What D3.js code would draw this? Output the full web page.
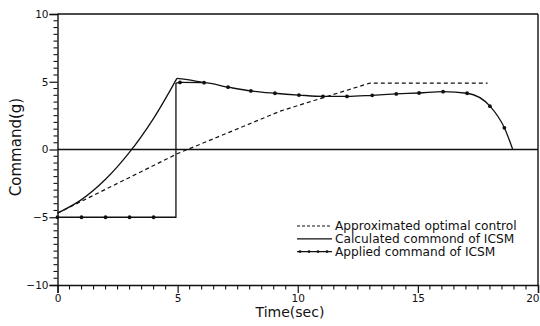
<!DOCTYPE html>
<html>
<head>
<meta charset="utf-8">
<script src="https://cdn.jsdelivr.net/npm/d3@7"></script>
<style>
  body { margin: 0; background: #fff; }
  svg { display: block; }
  text { font-family: "DejaVu Sans", sans-serif; fill: #111; }
</style>
</head>
<body>
<div id="chart"></div>
<script>
// values
const timeTicks = [0, 5, 10, 15, 20];
const commandTicks = [-10, -5, 0, 5, 10];

// approximated optimal control (dashed)
const optimalT = [0, 5, 9.3, 13, 17.9];
const optimalV = [-4.7, -0.3, 2.85, 4.9, 4.9];

// applied command of ICSM (solid with dots)
const stepT = [0, 1, 2, 3, 4, 4.93, 4.93];
const stepV = [-5, -5, -5, -5, -5, -5, 4.9];
const appliedT = [4.93, 5.1, 6.1, 7.1, 8.05, 9.05, 10.05, 11.05, 12.05, 13.1, 14.1, 15.05, 16.05, 17.05, 18.0, 18.6, 18.95];
const appliedV = [4.9, 4.95, 4.93, 4.6, 4.32, 4.15, 4.02, 3.92, 3.92, 4.0, 4.1, 4.17, 4.27, 4.15, 3.2, 1.6, 0];

// calculated command of ICSM (solid), joins the applied one after ~6 s
const riseT = [0, 1, 2, 3, 4, 4.97];
const riseV = [-4.7, -3.7, -2.2, -0.2, 2.3, 5.25];
const fallT = [4.97, 5.6, 6.1];
const fallV = [5.25, 5.1, 4.93];

const legendLabels = ['Approximated optimal control', 'Calculated commond of ICSM', 'Applied command of ICSM'];

const width = 540, height = 326;
const x = d3.scaleLinear().domain([0, 20]).range([57.5, 538]);
const y = d3.scaleLinear().domain([-10, 10]).range([285, 14]);
const ink = '#111';

const svg = d3.select('#chart').append('svg')
  .attr('width', width)
  .attr('height', height);

const pts = (ts, vs) => ts.map((t, i) => [t, vs[i]]);
const line = d3.line().x(d => x(d[0])).y(d => y(d[1]));
const smooth = d3.line().x(d => x(d[0])).y(d => y(d[1])).curve(d3.curveMonotoneX);
const rounded = d3.line().x(d => x(d[0])).y(d => y(d[1])).curve(d3.curveCatmullRom.alpha(0.5));

// frame: top and right edges
svg.append('line')
  .attr('x1', x(0)).attr('x2', x(20)).attr('y1', y(10)).attr('y2', y(10))
  .attr('stroke', ink).attr('stroke-width', 1.4);
svg.append('line')
  .attr('x1', x(20)).attr('x2', x(20)).attr('y1', y(10)).attr('y2', y(-10))
  .attr('stroke', ink).attr('stroke-width', 1.4);

// axes
const xAxis = d3.axisBottom(x).tickValues(timeTicks).tickSize(8).tickPadding(2).tickFormat(d3.format('d'));
const yAxis = d3.axisLeft(y).tickValues(commandTicks).tickSize(8).tickPadding(1)
  .tickFormat(d => d < 0 ? '\u2212' + Math.abs(d) : d);

const gx = svg.append('g').attr('transform', `translate(0,${y(-10)})`).call(xAxis);
const gy = svg.append('g').attr('transform', `translate(${x(0)},0)`).call(yAxis);
[gx, gy].forEach(g => {
  g.select('.domain').attr('stroke', ink).attr('stroke-width', 1.4);
  g.selectAll('.tick line').attr('stroke', ink).attr('stroke-width', 1.2);
  g.selectAll('.tick text').attr('font-size', 10.5).attr('fill', ink)
    .style('font-family', '"DejaVu Sans", sans-serif');
});
// keep the last time label inside the page
gx.selectAll('.tick text').filter(d => d === 20).attr('text-anchor', 'end').attr('dx', 1);

// minor ticks every 0.5
svg.append('g').selectAll('line')
  .data(d3.range(0.5, 20, 0.5).filter(v => v % 5 !== 0))
  .join('line')
  .attr('x1', d => x(d)).attr('x2', d => x(d))
  .attr('y1', y(-10)).attr('y2', y(-10) + 4.5)
  .attr('stroke', ink).attr('stroke-width', 1.1);
svg.append('g').selectAll('line')
  .data(d3.range(-9.5, 10, 0.5).filter(v => v % 5 !== 0))
  .join('line')
  .attr('x1', x(0) - 4).attr('x2', x(0))
  .attr('y1', d => y(d)).attr('y2', d => y(d))
  .attr('stroke', ink).attr('stroke-width', 1.1);

// zero line
svg.append('line')
  .attr('x1', x(0)).attr('x2', x(20)).attr('y1', y(0)).attr('y2', y(0))
  .attr('stroke', ink).attr('stroke-width', 1.3);

// series
svg.append('path')
  .attr('d', line(pts(optimalT, optimalV)))
  .attr('fill', 'none').attr('stroke', ink).attr('stroke-width', 1.2)
  .attr('stroke-dasharray', '4,3');

svg.append('path')
  .attr('d', rounded(pts(riseT, riseV)))
  .attr('fill', 'none').attr('stroke', ink).attr('stroke-width', 1.3);
svg.append('path')
  .attr('d', smooth(pts(fallT, fallV)))
  .attr('fill', 'none').attr('stroke', ink).attr('stroke-width', 1.3);

svg.append('path')
  .attr('d', line(pts(stepT, stepV)))
  .attr('fill', 'none').attr('stroke', ink).attr('stroke-width', 1.3);

svg.append('path')
  .attr('d', smooth(pts(appliedT, appliedV)))
  .attr('fill', 'none').attr('stroke', ink).attr('stroke-width', 1.3);

const dots = pts(stepT.slice(0, 5), stepV.slice(0, 5))
  .concat(pts(appliedT.slice(1, -1), appliedV.slice(1, -1)));
svg.append('g').selectAll('circle')
  .data(dots)
  .join('circle')
  .attr('cx', d => x(d[0])).attr('cy', d => y(d[1]))
  .attr('r', 1.9).attr('fill', ink);

// legend
const legend = svg.append('g').attr('transform', 'translate(297,226)');
legendLabels.forEach((label, i) => {
  const row = legend.append('g').attr('transform', `translate(0,${i * 12.8})`);
  const l = row.append('line')
    .attr('x1', 0).attr('x2', 35).attr('y1', 0).attr('y2', 0)
    .attr('stroke', ink).attr('stroke-width', 1.2);
  if (i === 0) l.attr('stroke-dasharray', '3,2');
  if (i === 2) {
    row.selectAll('circle').data([3, 12, 21, 30]).join('circle')
      .attr('cx', d => d).attr('cy', 0).attr('r', 1.4).attr('fill', ink);
  }
  row.append('text')
    .attr('x', 38).attr('y', 4.2)
    .attr('font-size', 12.2)
    .text(label);
});

// axis titles
svg.append('text')
  .attr('x', 290).attr('y', 317)
  .attr('text-anchor', 'middle')
  .attr('font-size', 14)
  .text('Time(sec)');

svg.append('text')
  .attr('transform', `translate(21,${147}) rotate(-90)`)
  .attr('text-anchor', 'middle')
  .attr('font-size', 15)
  .text('Command(g)');
</script>
</body>
</html>
